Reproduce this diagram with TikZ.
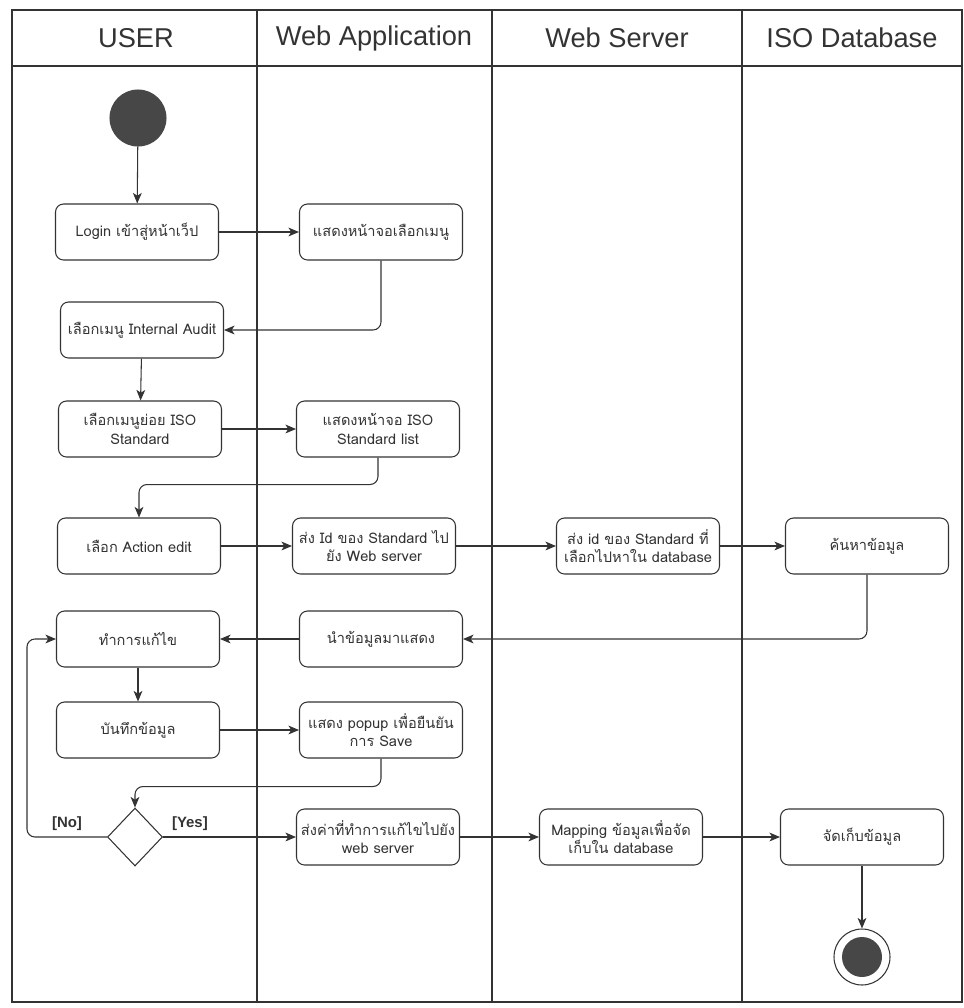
\documentclass[tikz,border=0pt]{standalone}
\usepackage{fontspec}
\setmainfont{Liberation Sans}
\newfontfamily\thaifont[Script=Thai]{Loma}
\usepackage{tikz}
\usetikzlibrary{arrows.meta,shapes.geometric,positioning}
\definecolor{ink}{HTML}{333333}
\definecolor{dot}{HTML}{474747}

\begin{document}
\begin{tikzpicture}[x=0.02cm, y=-0.02cm, line width=0.6pt,
  >={Stealth[length=6pt,width=5pt,inset=1.6pt]},
  every node/.style={font=\thaifont\fontsize{8.3}{10.5}\selectfont, text=ink},
  act/.style={draw=ink, rounded corners=0.16cm, minimum width=3.26cm, minimum height=1.12cm, align=center, inner sep=2pt},
  lane/.style={font=\rmfamily\fontsize{15.5}{18}\selectfont},
  guard/.style={font=\rmfamily\bfseries\fontsize{8.5}{10}\selectfont},
  flow/.style={draw=ink, ->, rounded corners=0.16cm}]
  \useasboundingbox (0,0) rectangle (964,1008);
  \draw[ink] (12,10) rectangle (962,1002);
  \draw[ink] (12,66) -- (962,66);
  \foreach \x in {257,492,742} \draw[ink] (\x,10) -- (\x,1002);
  \foreach \x/\t in {136/USER,374/Web Application,617/Web Server,852/ISO Database}
    \node[lane] at (\x,38) {\t};

  \node[circle, fill=dot, draw=dot, minimum size=1.12cm] (1) at (138,118) {};
  \node[act] (2) at (137,232) {Login เข้าสู่หน้าเว็ป};
  \node[act] (3) at (381,232) {แสดงหน้าจอเลือกเมนู};
  \node[act] (4) at (142,330) {เลือกเมนู Internal Audit};
  \node[act] (5) at (140,429) {เลือกเมนูย่อย ISO\\Standard};
  \node[act] (6) at (378,429) {แสดงหน้าจอ ISO\\Standard list};
  \node[act] (7) at (139,546) {เลือก Action edit};
  \node[act] (8) at (374,546) {ส่ง Id ของ Standard ไป\\ยัง Web server};
  \node[act] (9) at (638,546) {ส่ง id ของ Standard ที่\\เลือกไปหาใน database};
  \node[act] (10) at (867,546) {ค้นหาข้อมูล};
  \node[act] (11) at (381,639) {นำข้อมูลมาแสดง};
  \node[act] (12) at (138,639) {ทำการแก้ไข};
  \node[act] (13) at (138,730) {บันทึกข้อมูล};
  \node[act] (14) at (381,730) {แสดง popup เพื่อยืนยัน\\การ Save};
  \node[diamond, draw=ink, minimum width=1.1cm, minimum height=1.16cm, inner sep=0pt] (15) at (135,837) {};
  \node[act] (16) at (378,837) {ส่งค่าที่ทำการแก้ไขไปยัง\\web server};
  \node[act] (17) at (621,837) {Mapping ข้อมูลเพื่อจัด\\เก็บใน database};
  \node[act] (18) at (862,837) {จัดเก็บข้อมูล};
  \node[circle, draw=ink, minimum size=1.12cm,
    path picture={\fill[dot] (path picture bounding box.center) circle (0.4cm);}] (19) at (862,957) {};

  \draw[flow] (1) -- (2);
  \draw[flow] (2) -- (3);
  \draw[flow] (3) |- (4);
  \draw[flow] (4) -- (5);
  \draw[flow] (5) -- (6);
  \draw[flow] (6.south) -- ++(0,27) -| (7.north);
  \draw[flow] (7) -- (8);
  \draw[flow] (8) -- (9);
  \draw[flow] (9) -- (10);
  \draw[flow] (10) |- (11);
  \draw[flow] (11) -- (12);
  \draw[flow] (12) -- (13);
  \draw[flow] (13) -- (14);
  \draw[flow] (14.south) -- ++(0,28) -| (15.north);
  \draw[flow] (15.west) -- node[guard, above] {[No]} ++(-80,0) |- (12.west);
  \draw[flow] (15) -- node[guard, above right, pos=0.02] {[Yes]} (16);
  \draw[flow] (16) -- (17);
  \draw[flow] (17) -- (18);
  \draw[flow] (18) -- (19);
\end{tikzpicture}
\end{document}
